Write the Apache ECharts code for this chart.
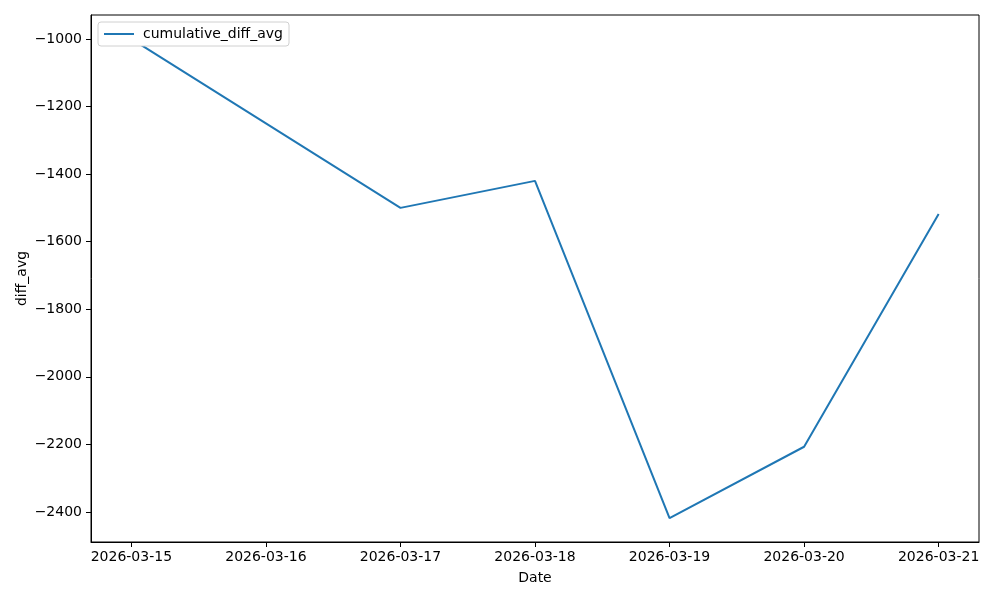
<!DOCTYPE html>
<html>
<head>
<meta charset="utf-8">
<script src="https://cdn.jsdelivr.net/npm/echarts@6/dist/echarts.min.js"></script>
<style>html,body{margin:0;padding:0;background:#fff}#c{width:1000px;height:600px}</style>
</head>
<body>
<div id="c"></div>
<script>
const dates = ['2026-03-15','2026-03-17','2026-03-18','2026-03-19','2026-03-20','2026-03-21'];
const values = [-1000, -1500, -1420, -2418, -2207, -1518];
const xTickLabels = ['2026-03-15','2026-03-16','2026-03-17','2026-03-18','2026-03-19','2026-03-20','2026-03-21'];
const yTicks = [-2400, -2200, -2000, -1800, -1600, -1400, -1200, -1000];

const DAY = 86400000;
const t0 = Date.parse(xTickLabels[0] + 'T00:00:00Z');
const dayIdx = d => (Date.parse(d + 'T00:00:00Z') - t0) / DAY;
const seriesData = dates.map((d, i) => [dayIdx(d), values[i]]);
const xTickIdx = xTickLabels.map(dayIdx);

const xmin = Math.min(...seriesData.map(p => p[0])), xmax = Math.max(...seriesData.map(p => p[0]));
const ymin = Math.min(...values), ymax = Math.max(...values);
const xm = (xmax - xmin) * 0.05, ym = (ymax - ymin) * 0.05;

const font = 'DejaVu Sans';
const chart = echarts.init(document.getElementById('c'), null, {renderer: 'canvas'});
chart.setOption({
  animation: false,
  backgroundColor: '#ffffff',
  textStyle: {fontFamily: font},
  grid: {left: 91, right: 21, top: 15, bottom: 58, show: true, borderColor: '#000', borderWidth: 1, backgroundColor: 'transparent'},
  legend: {
    show: true, left: 98, top: 22, padding: [5, 6, 5, 6],
    borderColor: '#d0d0d0', borderWidth: 1, borderRadius: 3, backgroundColor: '#fff',
    icon: 'rect', itemWidth: 30, itemHeight: 2, itemGap: 10,
    textStyle: {fontFamily: font, fontSize: 14, color: '#000', padding: [0, 0, 0, 4]},
    data: ['cumulative_diff_avg']
  },
  xAxis: {
    type: 'value', min: xmin - xm, max: xmax + xm,
    name: 'Date', nameLocation: 'middle', nameGap: 29, nameMoveOverlap: false,
    nameTextStyle: {fontFamily: font, fontSize: 14, color: '#000'},
    axisLine: {show: true, onZero: false, lineStyle: {color: '#000', width: 1}},
    axisTick: {show: true, inside: false, length: 5, customValues: xTickIdx, lineStyle: {color: '#000'}},
    axisLabel: {show: true, customValues: xTickIdx, margin: 8, fontFamily: font, fontSize: 14, color: '#000',
      formatter: v => xTickLabels[xTickIdx.indexOf(v)] || ''},
    splitLine: {show: false}
  },
  yAxis: {
    type: 'value', min: ymin - ym, max: ymax + ym,
    name: 'diff_avg', nameLocation: 'middle', nameGap: 62, nameRotate: 90, nameMoveOverlap: false,
    nameTextStyle: {fontFamily: font, fontSize: 14, color: '#000'},
    axisLine: {show: true, onZero: false, lineStyle: {color: '#000', width: 1}},
    axisTick: {show: true, inside: false, length: 5, customValues: yTicks, lineStyle: {color: '#000'}},
    axisLabel: {show: true, customValues: yTicks, margin: 9, fontFamily: font, fontSize: 14, color: '#000',
      formatter: v => String(v).replace('-', '\u2212')},
    splitLine: {show: false}
  },
  series: [{
    name: 'cumulative_diff_avg', type: 'line', data: seriesData,
    showSymbol: false, symbol: 'none',
    lineStyle: {color: '#1f77b4', width: 2}, itemStyle: {color: '#1f77b4'}
  }]
});
</script>
</body>
</html>
